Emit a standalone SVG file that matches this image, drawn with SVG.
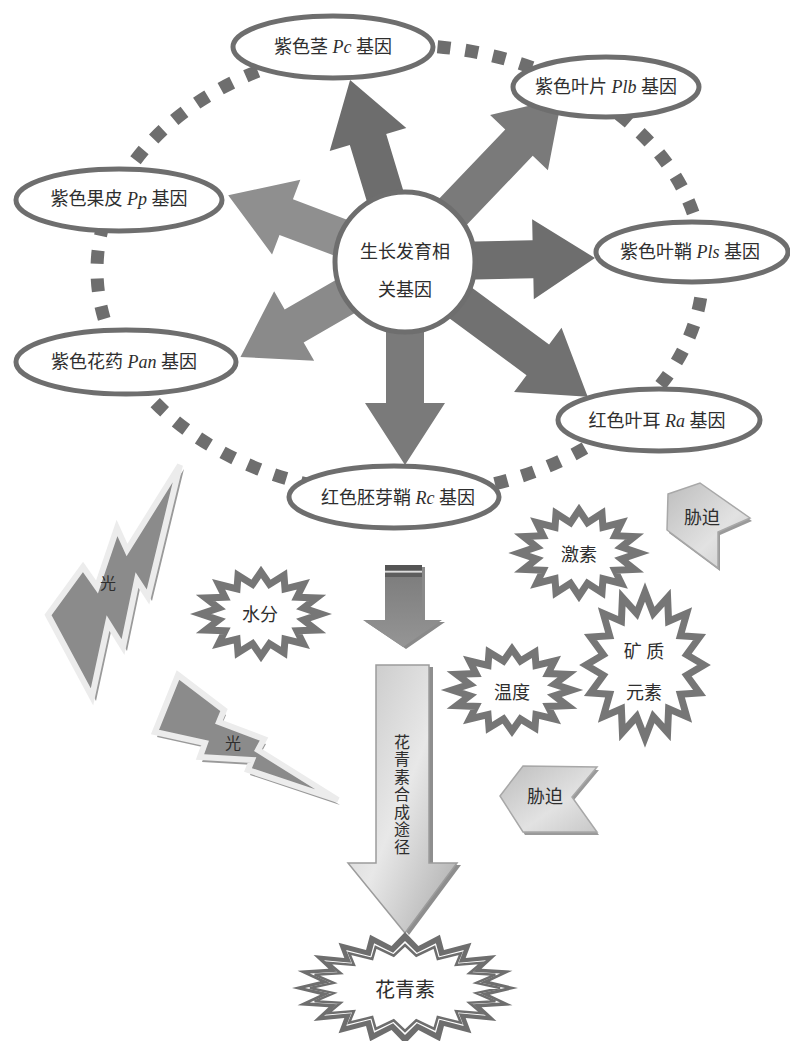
<svg xmlns="http://www.w3.org/2000/svg" xmlns:xlink="http://www.w3.org/1999/xlink" width="790" height="1041" viewBox="0 0 790 1041">
<style>
.t{font-family:"Liberation Serif","Noto Sans CJK SC",serif;font-size:18px;fill:#2e2e2e;text-anchor:middle;dominant-baseline:central}
.v{font-size:16px}
.i{font-style:italic;font-family:"Liberation Serif",serif}
.node{fill:#fff;stroke:#6e6e6e;stroke-width:5}
.star{fill:#fff;stroke:#767676;stroke-width:7;stroke-linejoin:miter;stroke-miterlimit:10}
.bolt{fill:#8b8b8b;stroke:#ececec;stroke-width:6;stroke-linejoin:miter}
.boltsh{fill:#9a9a9a}
.chev{fill:url(#gChev);stroke:#a8a8a8;stroke-width:1.5}
</style>
<defs>
<polygon id="starU" vector-effect="non-scaling-stroke" points="1,0 .706,.141 .924,.383 .599,.4 .707,.707 .4,.599 .383,.924 .141,.706 0,1 -.141,.706 -.383,.924 -.4,.599 -.707,.707 -.599,.4 -.924,.383 -.706,.141 -1,0 -.706,-.141 -.924,-.383 -.599,-.4 -.707,-.707 -.4,-.599 -.383,-.924 -.141,-.706 0,-1 .141,-.706 .383,-.924 .4,-.599 .707,-.707 .599,-.4 .924,-.383 .706,-.141"/>
<polygon id="star20" vector-effect="non-scaling-stroke" points="1,0 .751,.119 .951,.309 .677,.345 .809,.588 .537,.537 .588,.809 .345,.677 .309,.951 .119,.751 0,1 -.119,.751 -.309,.951 -.345,.677 -.588,.809 -.537,.537 -.809,.588 -.677,.345 -.951,.309 -.751,.119 -1,0 -.751,-.119 -.951,-.309 -.677,-.345 -.809,-.588 -.537,-.537 -.588,-.809 -.345,-.677 -.309,-.951 -.119,-.751 0,-1 .119,-.751 .309,-.951 .345,-.677 .588,-.809 .537,-.537 .809,-.588 .677,-.345 .951,-.309 .751,-.119"/>
<linearGradient id="gBig" x1="0" y1="0" x2="1" y2="1">
<stop offset="0" stop-color="#c4c4c4"/><stop offset="0.5" stop-color="#e8e8e8"/><stop offset="1" stop-color="#a9a9a9"/>
</linearGradient>
<linearGradient id="gSmall" x1="0" y1="0" x2="0" y2="1">
<stop offset="0" stop-color="#7a7a7a"/><stop offset="1" stop-color="#959595"/>
</linearGradient>
<linearGradient id="gChev" x1="0" y1="0" x2="1" y2="1">
<stop offset="0" stop-color="#bdbdbd"/><stop offset="0.6" stop-color="#e2e2e2"/><stop offset="1" stop-color="#c8c8c8"/>
</linearGradient>
</defs>

<g id="connectors">
<ellipse cx="400" cy="270" rx="303" ry="225" fill="none" stroke="#6e6e6e" stroke-width="13" stroke-dasharray="13 15"/>
<g transform="translate(405,262)">
<path fill="#6d6d6d" transform="rotate(-106.8)" d="M0,-19H128V-40L190,0L128,40V19H0Z"/>
<path fill="#7a7a7a" transform="rotate(-46.3)" d="M0,-19H165V-40L227,0L165,40V19H0Z"/>
<path fill="#6e6e6e" transform="rotate(-1.2)" d="M0,-19H128V-40L190,0L128,40V19H0Z"/>
<path fill="#717171" transform="rotate(36.4)" d="M0,-19H165V-40L227,0L165,40V19H0Z"/>
<path fill="#7a7a7a" transform="rotate(90)" d="M0,-19H141V-40L203,0L141,40V19H0Z"/>
<path fill="#8a8a8a" transform="rotate(150)" d="M0,-19H128V-40L190,0L128,40V19H0Z"/>
<path fill="#8f8f8f" transform="rotate(-159.3)" d="M0,-19H127V-40L189,0L127,40V19H0Z"/>
</g>
</g>

<g id="center">
<circle cx="405" cy="262" r="70" class="node"/>
<text class="t" x="405" y="252">生长发育相</text>
<text class="t" x="405" y="290">关基因</text>
</g>

<g id="n-pc"><ellipse cx="333" cy="47" rx="100" ry="31" class="node"/><text class="t" x="333" y="47">紫色茎 <tspan class="i">Pc</tspan> 基因</text></g>
<g id="n-plb"><ellipse cx="606" cy="87" rx="93" ry="30" class="node"/><text class="t" x="606" y="87">紫色叶片 <tspan class="i">Plb</tspan> 基因</text></g>
<g id="n-pp"><ellipse cx="119" cy="200" rx="103" ry="31" class="node"/><text class="t" x="119" y="199">紫色果皮 <tspan class="i">Pp</tspan> 基因</text></g>
<g id="n-pls"><ellipse cx="692" cy="252" rx="96" ry="30" class="node"/><text class="t" x="690" y="252">紫色叶鞘 <tspan class="i">Pls</tspan> 基因</text></g>
<g id="n-pan"><ellipse cx="126" cy="362" rx="110" ry="32" class="node"/><text class="t" x="124" y="362">紫色花药 <tspan class="i">Pan</tspan> 基因</text></g>
<g id="n-ra"><ellipse cx="659" cy="420" rx="101" ry="31" class="node"/><text class="t" x="657" y="421">红色叶耳 <tspan class="i">Ra</tspan> 基因</text></g>
<g id="n-rc"><ellipse cx="394" cy="497" rx="105" ry="31" class="node"/><text class="t" x="398" y="498">红色胚芽鞘 <tspan class="i">Rc</tspan> 基因</text></g>

<g id="light1">
<polygon class="boltsh" transform="translate(4,4)" points="180,465 148,597 137,580 123,647 108,623 92,697 48,615 83,567 97,587 117,528 127,550"/>
<polygon class="bolt" points="180,465 148,597 137,580 123,647 108,623 92,697 48,615 83,567 97,587 117,528 127,550"/>
<text class="t" x="108" y="583" style="font-size:16px">光</text>
</g>
<g id="light2">
<polygon class="boltsh" transform="translate(2,5)" points="178,675 224,710 219,722 264,739 258,750 338,800 248,770 252,760 200,757 205,743 155,732"/>
<polygon class="bolt" points="178,675 224,710 219,722 264,739 258,750 338,800 248,770 252,760 200,757 205,743 155,732"/>
<text class="t" x="233" y="743" style="font-size:16px">光</text>
</g>

<g id="water"><use xlink:href="#starU" class="star" transform="translate(261,614) scale(60,42)"/><text class="t" x="260" y="615">水分</text></g>
<g id="hormone"><use xlink:href="#starU" class="star" transform="translate(579,553) scale(60,43)"/><text class="t" x="579" y="555">激素</text></g>
<g id="temp"><use xlink:href="#starU" class="star" transform="translate(512,690) scale(60,41)"/><text class="t" x="512" y="693">温度</text></g>
<g id="mineral"><use xlink:href="#starU" class="star" transform="translate(645,665) scale(59,73)"/><text class="t" x="644" y="652">矿 质</text><text class="t" x="644" y="693">元素</text></g>

<g id="stress1">
<polygon fill="#9a9a9a" transform="translate(2,3)" points="668,494 700,483 750,518 718,532 718,568 667,530"/>
<polygon class="chev" points="668,494 700,483 750,518 718,532 718,568 667,530"/>
<text class="t" x="702" y="518">胁迫</text>
</g>
<g id="stress2">
<polygon fill="#9a9a9a" transform="translate(2,3)" points="500,796 523,766 597,767 572,797 597,832 523,832"/>
<polygon class="chev" points="500,796 523,766 597,767 572,797 597,832 523,832"/>
<text class="t" x="545" y="797">胁迫</text>
</g>

<g id="arrow-small">
<path fill="#8a8a8a" transform="translate(3,2)" d="M385,565H422V620H442L403,647L363,620H385Z"/>
<path fill="url(#gSmall)" d="M385,565H422V620H442L403,647L363,620H385Z"/>
<rect x="385" y="565" width="37" height="5" fill="#555"/>
<rect x="385" y="571" width="37" height="1.5" fill="#ddd"/>
<rect x="385" y="573" width="37" height="4" fill="#5e5e5e"/>
</g>

<g id="pathway">
<path fill="#8e8e8e" transform="translate(4,2)" d="M376,665H429V863H457L405,933L348,863H376Z"/>
<path fill="url(#gBig)" stroke="#9c9c9c" stroke-width="1.5" d="M376,665H429V863H457L405,933L348,863H376Z"/>
<text class="t v" x="402" y="742">花</text>
<text class="t v" x="402" y="759.5">青</text>
<text class="t v" x="402" y="777">素</text>
<text class="t v" x="402" y="794.5">合</text>
<text class="t v" x="402" y="812">成</text>
<text class="t v" x="402" y="829.5">途</text>
<text class="t v" x="402" y="847">径</text>
</g>

<g id="anthocyanin">
<use xlink:href="#star20" fill="#6e6e6e" transform="translate(405,988) scale(113,56)"/>
<use xlink:href="#star20" fill="#fff" transform="translate(405,988) scale(100,47)"/>
<use xlink:href="#star20" fill="#fff" stroke="#6e6e6e" stroke-width="2.5" transform="translate(405,988) scale(95,43)"/>
<text class="t" x="405" y="990" style="font-size:20px">花青素</text>
</g>
</svg>
